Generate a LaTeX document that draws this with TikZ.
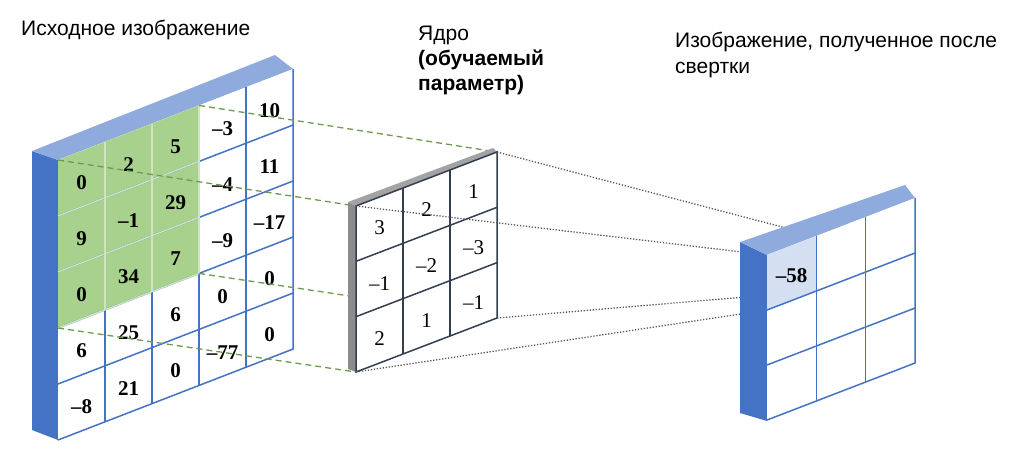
\documentclass[tikz,border=0pt]{standalone}
\usepackage{fontspec}
\setmainfont{Liberation Serif}
\newfontfamily\labfont{Liberation Sans}
\definecolor{sideblue}{RGB}{68,114,196}
\definecolor{topblue}{RGB}{143,170,220}
\definecolor{gridblue}{RGB}{68,114,196}
\definecolor{cellgreen}{RGB}{169,209,142}
\definecolor{greenline}{RGB}{205,228,190}
\definecolor{kernline}{RGB}{51,63,80}
\definecolor{kerngray}{RGB}{140,140,140}
\definecolor{cellblue}{RGB}{212,223,242}
\definecolor{dashgreen}{RGB}{110,155,78}
\definecolor{dotgray}{RGB}{90,90,90}
\begin{document}
\begin{tikzpicture}[x=1pt,y=-1pt,
  num/.style={font=\fontsize{21}{24}\selectfont\bfseries, inner sep=0pt},
  knum/.style={font=\fontsize{21}{24}\selectfont, inner sep=0pt},
  lbl/.style={font=\labfont\fontsize{21}{25}\selectfont, anchor=base west, inner sep=0pt},
  blbl/.style={font=\labfont\bfseries\fontsize{21}{25}\selectfont, anchor=base west, inner sep=0pt},
  bline/.style={draw=gridblue, line width=1.5pt},
  kline/.style={draw=kernline, line width=1.5pt},
  gdash/.style={draw=dashgreen, line width=1.3pt, dash pattern=on 6pt off 4pt},
  gdot/.style={draw=dotgray, line width=1.3pt, dash pattern=on 1.3pt off 1.7pt}]
\useasboundingbox (0,0) rectangle (1016,458);

% ---------- named corner coordinates ----------
\begin{scope}[shift={(58,160)}, yslant=0.387]
  \coordinate (gTL) at (0,0);   \coordinate (gTR) at (141,0);
  \coordinate (gBL) at (0,168); \coordinate (gBR) at (141,168);
\end{scope}
\begin{scope}[shift={(356,206)}, yslant=0.383]
  \coordinate (kTL) at (0,0);   \coordinate (kTR) at (141,0);
  \coordinate (kBL) at (0,166); \coordinate (kBR) at (141,166);
\end{scope}
\begin{scope}[shift={(767,255)}, yslant=0.385]
  \coordinate (oTL) at (0,0);      \coordinate (oTR) at (49.33,0);
  \coordinate (oBL) at (0,55);     \coordinate (oBR) at (49.33,55);
\end{scope}

% ---------- labels ----------
\node[lbl] (t1) at (21,35) {Исходное изображение};
\node[lbl] (t2) at (418,40) {Ядро};
\node[blbl] (t3) at (418,65) {(обучаемый};
\node[blbl] (t4) at (418,90) {параметр)};
\node[lbl] (t5) at (675,47) {Изображение, полученное после};
\node[lbl] (t6) at (675,73) {свертки};

% ---------- input image ----------
\fill[sideblue] (58,160) -- (32,151) -- (32,430) -- (58,440) -- cycle;
\fill[topblue] (58,160) -- (32,151) -- (275,55) -- (293,69) -- cycle;
\begin{scope}[shift={(58,160)}, yslant=0.387]
  \fill[white] (0,0) rectangle (235,280);
  \fill[cellgreen] (0,0) rectangle (141,168);
  \foreach \i in {1,...,4} \draw[bline] (47*\i,0) -- (47*\i,280);
  \foreach \j in {1,...,4} \draw[bline] (0,56*\j) -- (235,56*\j);
  \draw[bline] (235,0) -- (235,280) -- (0,280);
  \foreach \i in {1,2,3} \draw[draw=greenline, line width=1.5pt] (47*\i,0) -- (47*\i,168);
  \foreach \j in {1,2,3} \draw[draw=greenline, line width=1.5pt] (0,56*\j) -- (141,56*\j);
  \foreach \row [count=\r from 0] in {{0,2,5,–3,10},{9,–1,29,–4,11},{0,34,7,–9,–17},{6,25,6,0,0},{–8,21,0,–77,0}}
    \foreach \val [count=\c from 0] in \row
      \node[num] (L\r\c) at ({47*\c+23.5},{56*\r+32}) {\val};
\end{scope}

% ---------- dashed projection lines ----------
\draw[gdash] (gTR) -- (kTR);
\draw[gdash] (gTL) -- (kTL);
\draw[gdash] (gBR) -- (kBR);
\draw[gdash] (gBL) -- (kBL);

% ---------- kernel ----------
\fill[kerngray] (356,206) -- (348,202) -- (348,369) -- (356,372) -- cycle;
\fill[kerngray!80] (356,206) -- (348,202) -- (493,148) -- (497,152) -- cycle;
\begin{scope}[shift={(356,206)}, yslant=0.383]
  \fill[white] (0,0) rectangle (141,166);
  \foreach \i in {1,2} \draw[kline] (47*\i,0) -- (47*\i,166);
  \foreach \j in {1,2} \draw[kline] (0,55.33*\j) -- (141,55.33*\j);
  \draw[kline] (0,0) rectangle (141,166);
  \foreach \row [count=\r from 0] in {{3,2,1},{–1,–2,–3},{2,1,–1}}
    \foreach \val [count=\c from 0] in \row
      \node[knum] (K\r\c) at ({47*\c+23.5},{55.33*\r+31}) {\val};
\end{scope}

% ---------- dotted projection lines ----------
\draw[gdot] (kTR) -- (oTR);
\draw[gdot] (kTL) -- (oTL);
\draw[gdot] (kBR) -- (oBR);
\draw[gdot] (kBL) -- (oBL);

% ---------- output ----------
\fill[sideblue] (767,255) -- (740,242) -- (740,413) -- (767,421) -- cycle;
\fill[topblue] (767,255) -- (740,242) -- (905,185) -- (915,198) -- cycle;
\begin{scope}[shift={(767,255)}, yslant=0.385]
  \fill[white] (0,0) rectangle (148,165);
  \fill[cellblue] (0,0) rectangle (49.33,55);
  \foreach \i in {1,2} \draw[bline] (49.33*\i,0) -- (49.33*\i,165);
  \foreach \j in {1,2} \draw[bline] (0,55*\j) -- (148,55*\j);
  \draw[bline] (148,0) -- (148,165) -- (0,165);
  \node[num] (O00) at (24.7,30) {–58};
\end{scope}
\end{tikzpicture}
\end{document}
